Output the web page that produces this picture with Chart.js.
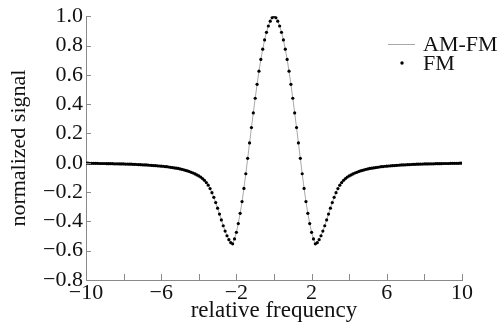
<!DOCTYPE html>
<html lang="en">
<head>
    <meta charset="UTF-8">
    <title>AM-FM vs FM</title>
    <script src="https://cdn.jsdelivr.net/npm/chart.js"></script>
    <style>
        html, body { margin: 0; padding: 0; background: #fff; }
        #wrap { width: 504px; height: 325px; }
    </style>
</head>
<body>
    <div id="wrap"><canvas id="grafico"></canvas></div>

    <script>
        // sample grid along the x axis
        const freqStart = -10;
        const freqStep = 0.1;

        const xTickValues = [-10, -8, -6, -4, -2, 0, 2, 4, 6, 8, 10];
        const xTickLabels = [-10, -6, -2, 2, 6, 10];
        const yTickValues = [-0.8, -0.6, -0.4, -0.2, 0, 0.2, 0.4, 0.6, 0.8, 1.0];
        const seriesNames = ['AM-FM', 'FM'];

        // normalized signal, x = -10 ... 10 step 0.1
        const amFmSignal = [
            -0.003, -0.003, -0.004, -0.004, -0.004, -0.004, -0.004, -0.005, -0.005, -0.005,
            -0.005, -0.006, -0.006, -0.006, -0.006, -0.007, -0.007, -0.007, -0.008, -0.008,
            -0.008, -0.009, -0.009, -0.010, -0.010, -0.011, -0.011, -0.012, -0.013, -0.013,
            -0.014, -0.015, -0.015, -0.016, -0.017, -0.018, -0.019, -0.020, -0.021, -0.022,
            -0.023, -0.024, -0.026, -0.027, -0.029, -0.031, -0.033, -0.035, -0.037, -0.039,
            -0.042, -0.045, -0.048, -0.052, -0.056, -0.060, -0.065, -0.070, -0.076, -0.083,
            -0.090, -0.098, -0.108, -0.120, -0.135, -0.153, -0.176, -0.204, -0.236, -0.272,
            -0.310, -0.350, -0.390, -0.430, -0.466, -0.498, -0.525, -0.545, -0.553, -0.520,
            -0.475, -0.415, -0.345, -0.265, -0.175, -0.075, 0.030, 0.135, 0.240, 0.340,
            0.440, 0.535, 0.625, 0.705, 0.775, 0.838, 0.890, 0.933, 0.966, 0.990,
            1.000,
            0.990, 0.966, 0.933, 0.890, 0.838, 0.775, 0.705, 0.625, 0.535, 0.440,
            0.340, 0.240, 0.135, 0.030, -0.075, -0.175, -0.265, -0.345, -0.415, -0.475,
            -0.520, -0.553, -0.545, -0.525, -0.498, -0.466, -0.430, -0.390, -0.350, -0.310,
            -0.272, -0.236, -0.204, -0.176, -0.153, -0.135, -0.120, -0.108, -0.098, -0.090,
            -0.083, -0.076, -0.070, -0.065, -0.060, -0.056, -0.052, -0.048, -0.045, -0.042,
            -0.039, -0.037, -0.035, -0.033, -0.031, -0.029, -0.027, -0.026, -0.024, -0.023,
            -0.022, -0.021, -0.020, -0.019, -0.018, -0.017, -0.016, -0.015, -0.015, -0.014,
            -0.013, -0.013, -0.012, -0.011, -0.011, -0.010, -0.010, -0.009, -0.009, -0.008,
            -0.008, -0.008, -0.007, -0.007, -0.007, -0.006, -0.006, -0.006, -0.006, -0.005,
            -0.005, -0.005, -0.005, -0.004, -0.004, -0.004, -0.004, -0.004, -0.003, -0.003
        ];
        // the FM samples sit on the AM-FM curve in the picture
        const fmSignal = amFmSignal.slice();

        const toPoints = arr => arr.map((v, i) => ({ x: freqStart + i * freqStep, y: v }));

        function fmt(v, digits) {
            if (Math.abs(v) < 1e-9) v = 0;
            let s = v.toFixed(digits);
            return s.replace('-', '\u2212');
        }

        const axisColor = '#8a8a8a';
        const fontFamily = '"Liberation Serif", "Times New Roman", serif';

        // inward tick marks + small legend in the upper right
        const extras = {
            id: 'extras',
            afterDraw(chart) {
                const ctx = chart.ctx;
                const area = chart.chartArea;
                const xs = chart.scales.x, ys = chart.scales.y;
                ctx.save();
                ctx.strokeStyle = axisColor;
                ctx.lineWidth = 1;
                ctx.beginPath();
                xTickValues.forEach(v => {
                    const px = Math.round(xs.getPixelForValue(v)) + 0.5;
                    ctx.moveTo(px, area.bottom);
                    ctx.lineTo(px, area.bottom - 6);
                });
                yTickValues.forEach(v => {
                    const py = Math.round(ys.getPixelForValue(v)) + 0.5;
                    ctx.moveTo(area.left, py);
                    ctx.lineTo(area.left + 5, py);
                });
                ctx.stroke();

                // legend
                const ds = chart.data.datasets;
                const lx = area.right - 74, tx = area.right - 39;
                const row1 = 44, row2 = 63;
                ctx.strokeStyle = ds[0].borderColor;
                ctx.lineWidth = 1;
                ctx.beginPath();
                ctx.moveTo(lx, row1 + 0.5);
                ctx.lineTo(lx + 27, row1 + 0.5);
                ctx.stroke();
                ctx.fillStyle = '#000';
                ctx.beginPath();
                ctx.arc(lx + 14, row2, 1.7, 0, Math.PI * 2);
                ctx.fill();
                ctx.font = '22px ' + fontFamily;
                ctx.fillStyle = '#111';
                ctx.textBaseline = 'middle';
                ctx.textAlign = 'left';
                ctx.fillText(ds[0].label, tx, row1 + 1);
                ctx.fillText(ds[1].label, tx, row2 + 1);
                ctx.restore();
            }
        };

        Chart.defaults.font.family = fontFamily;
        Chart.defaults.font.size = 22;
        Chart.defaults.color = '#111';

        const ctx = document.getElementById('grafico').getContext('2d');
        const myChart = new Chart(ctx, {
            type: 'line',
            data: {
                datasets: [
                    {
                        label: seriesNames[0],
                        data: toPoints(amFmSignal),
                        borderColor: '#a8a8a8',
                        borderWidth: 1,
                        pointRadius: 0,
                        tension: 0,
                        order: 1
                    },
                    {
                        label: seriesNames[1],
                        data: toPoints(fmSignal),
                        showLine: false,
                        pointRadius: 1.6,
                        pointBorderWidth: 0,
                        pointBackgroundColor: '#000',
                        order: 0
                    }
                ]
            },
            options: {
                responsive: true,
                maintainAspectRatio: false,
                animation: false,
                layout: { padding: { top: 15, right: 42, left: 0, bottom: 0 } },
                plugins: { legend: { display: false }, tooltip: { enabled: false } },
                scales: {
                    x: {
                        type: 'linear',
                        min: -10,
                        max: 10,
                        grid: { display: false, drawTicks: false },
                        border: { display: true, color: axisColor, width: 1 },
                        afterBuildTicks: s => { s.ticks = xTickValues.map(v => ({ value: v })); },
                        ticks: {
                            autoSkip: false,
                            maxRotation: 0,
                            padding: 0,
                            callback: v => xTickLabels.includes(v) ? fmt(v, 0) : ''
                        },
                        title: { display: true, text: 'relative frequency', padding: 0, font: { size: 23 } },
                        afterFit: s => { s.height = 45; }
                    },
                    y: {
                        min: -0.8,
                        max: 1.0,
                        grid: { display: false, drawTicks: false },
                        border: { display: true, color: axisColor, width: 1 },
                        afterBuildTicks: s => { s.ticks = yTickValues.map(v => ({ value: v })); },
                        ticks: {
                            autoSkip: false,
                            padding: 3,
                            callback: v => fmt(v, 1)
                        },
                        title: { display: true, text: 'normalized signal', padding: { top: 6, bottom: 0 } },
                        afterFit: s => { s.width = 86; }
                    }
                }
            },
            plugins: [extras]
        });
    </script>
</body>
</html>
